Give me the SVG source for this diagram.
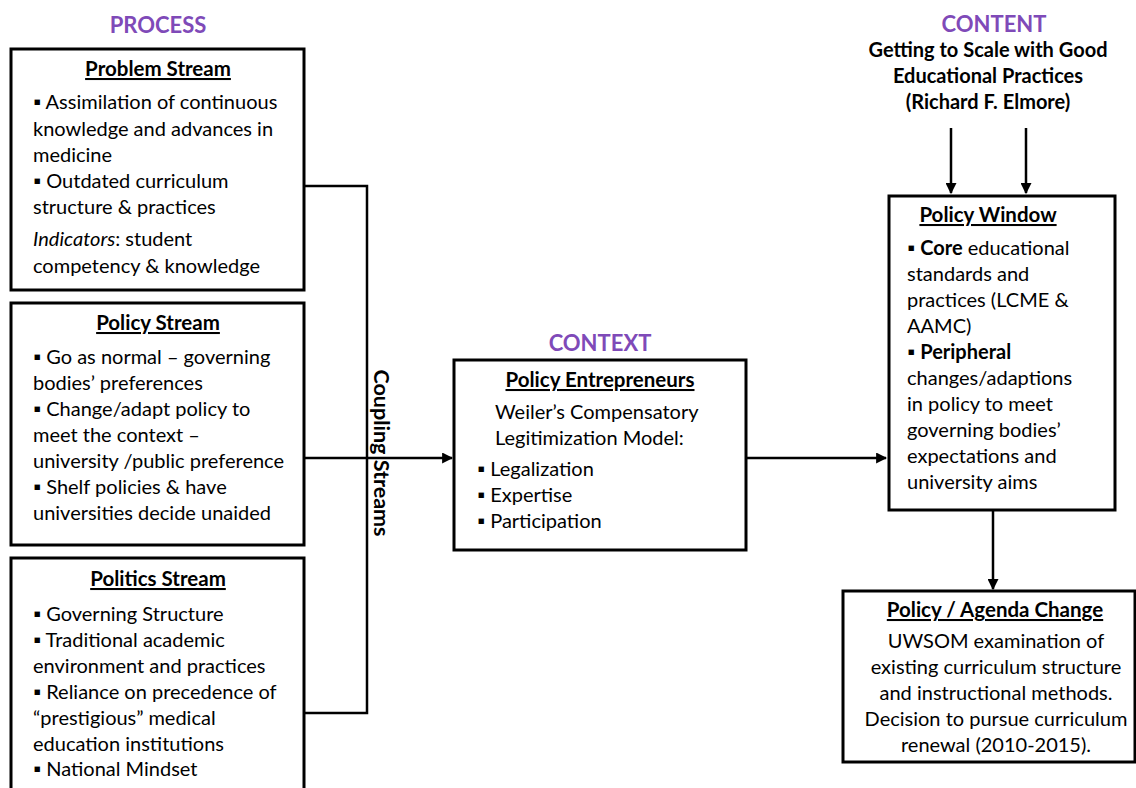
<svg xmlns="http://www.w3.org/2000/svg" width="1136" height="788" viewBox="0 0 1136 788">
  <style>
    .bg { fill: #ffffff; }
    .box { fill: #ffffff; stroke: #000000; stroke-width: 3; }
    .wire { fill: none; stroke: #000000; stroke-width: 2.5; }
    text { font-family: Lato, "Liberation Sans", sans-serif; fill: #000000; font-size: 20px; }
    .head { font-size: 22px; font-weight: bold; fill: #7F4AB8; text-anchor: middle; }
    .title { font-size: 20.5px; font-weight: bold; text-anchor: middle; text-decoration: underline; }
    .sub { font-size: 20px; font-weight: bold; text-anchor: middle; }
    .mid { text-anchor: middle; }
    .b { font-weight: bold; }
    .couple { font-size: 21.5px; font-weight: bold; text-anchor: middle; }
  </style>
  <defs>
    <marker id="arrow" viewBox="0 0 10 10" refX="9" refY="5" markerWidth="4.4" markerHeight="4.4" orient="auto" markerUnits="strokeWidth">
      <path d="M0,0 L10,5 L0,10 z" fill="#000000"/>
    </marker>
  </defs>
  <rect class="bg" x="0" y="0" width="1136" height="788"/>

  <!-- section headings -->
  <g id="headings">
    <text class="head" x="158" y="33">PROCESS</text>
    <text class="head" x="600" y="351">CONTEXT</text>
    <text class="head" x="994" y="32">CONTENT</text>
    <text class="sub" x="988" y="57">Getting to Scale with Good</text>
    <text class="sub" x="988" y="83">Educational Practices</text>
    <text class="sub" x="988" y="109">(Richard F. Elmore)</text>
  </g>

  <!-- connectors -->
  <g id="connectors">
    <polyline class="wire" points="304,186 367,186 367,713 304,713"/>
    <line class="wire" x1="304" y1="458" x2="452" y2="458" marker-end="url(#arrow)"/>
    <line class="wire" x1="746" y1="458" x2="886" y2="458" marker-end="url(#arrow)"/>
    <line class="wire" x1="951" y1="128" x2="951" y2="193" marker-end="url(#arrow)"/>
    <line class="wire" x1="1026" y1="128" x2="1026" y2="193" marker-end="url(#arrow)"/>
    <line class="wire" x1="993" y1="510" x2="993" y2="589" marker-end="url(#arrow)"/>
    <text class="couple" x="0" y="0" transform="translate(374,453) rotate(90)">Coupling Streams</text>
  </g>

  <g id="problem-stream">
    <rect class="box" x="11" y="49" width="293" height="241"/>
    <text class="title" x="158" y="76">Problem Stream</text>
    <text x="33" y="109">▪ Assimilation of continuous</text>
    <text x="33" y="136">knowledge and advances in</text>
    <text x="33" y="162">medicine</text>
    <text x="33" y="188">▪ Outdated curriculum</text>
    <text x="33" y="214">structure &amp; practices</text>
    <text x="33" y="246"><tspan font-style="italic">Indicators</tspan>: student</text>
    <text x="33" y="273">competency &amp; knowledge</text>
  </g>

  <g id="policy-stream">
    <rect class="box" x="11" y="303" width="293" height="242"/>
    <text class="title" x="158" y="330">Policy Stream</text>
    <text x="33" y="364">▪ Go as normal – governing</text>
    <text x="33" y="390">bodies’ preferences</text>
    <text x="33" y="416">▪ Change/adapt policy to</text>
    <text x="33" y="442">meet the context –</text>
    <text x="33" y="468">university /public preference</text>
    <text x="33" y="494">▪ Shelf policies &amp; have</text>
    <text x="33" y="520">universities decide unaided</text>
  </g>

  <g id="politics-stream">
    <rect class="box" x="11" y="558" width="293" height="240"/>
    <text class="title" x="158" y="586">Politics Stream</text>
    <text x="33" y="621">▪ Governing Structure</text>
    <text x="33" y="647">▪ Traditional academic</text>
    <text x="33" y="673">environment and practices</text>
    <text x="33" y="699">▪ Reliance on precedence of</text>
    <text x="33" y="725">“prestigious” medical</text>
    <text x="33" y="751">education institutions</text>
    <text x="33" y="776">▪ National Mindset</text>
  </g>

  <g id="policy-entrepreneurs">
    <rect class="box" x="454" y="360" width="292" height="190"/>
    <text class="title" x="600" y="387">Policy Entrepreneurs</text>
    <text x="495" y="419">Weiler’s Compensatory</text>
    <text x="495" y="445">Legitimization Model:</text>
    <text x="477" y="476">▪ Legalization</text>
    <text x="477" y="502">▪ Expertise</text>
    <text x="477" y="528">▪ Participation</text>
  </g>

  <g id="policy-window">
    <rect class="box" x="889" y="196" width="226" height="314"/>
    <text class="title" x="988" y="222">Policy Window</text>
    <text x="907" y="255">▪ <tspan class="b">Core</tspan> educational</text>
    <text x="907" y="281">standards and</text>
    <text x="907" y="307">practices (LCME &amp;</text>
    <text x="907" y="333">AAMC)</text>
    <text x="907" y="359">▪ <tspan class="b">Peripheral</tspan></text>
    <text x="907" y="385">changes/adaptions</text>
    <text x="907" y="411">in policy to meet</text>
    <text x="907" y="437">governing bodies’</text>
    <text x="907" y="463">expectations and</text>
    <text x="907" y="489">university aims</text>
  </g>

  <g id="policy-agenda-change">
    <rect class="box" x="843" y="591" width="292" height="171"/>
    <text class="title" x="995" y="617">Policy / Agenda Change</text>
    <text class="mid" x="996" y="648">UWSOM examination of</text>
    <text class="mid" x="996" y="674">existing curriculum structure</text>
    <text class="mid" x="996" y="700">and instructional methods.</text>
    <text class="mid" x="996" y="726">Decision to pursue curriculum</text>
    <text class="mid" x="996" y="752">renewal (2010-2015).</text>
  </g>
</svg>
